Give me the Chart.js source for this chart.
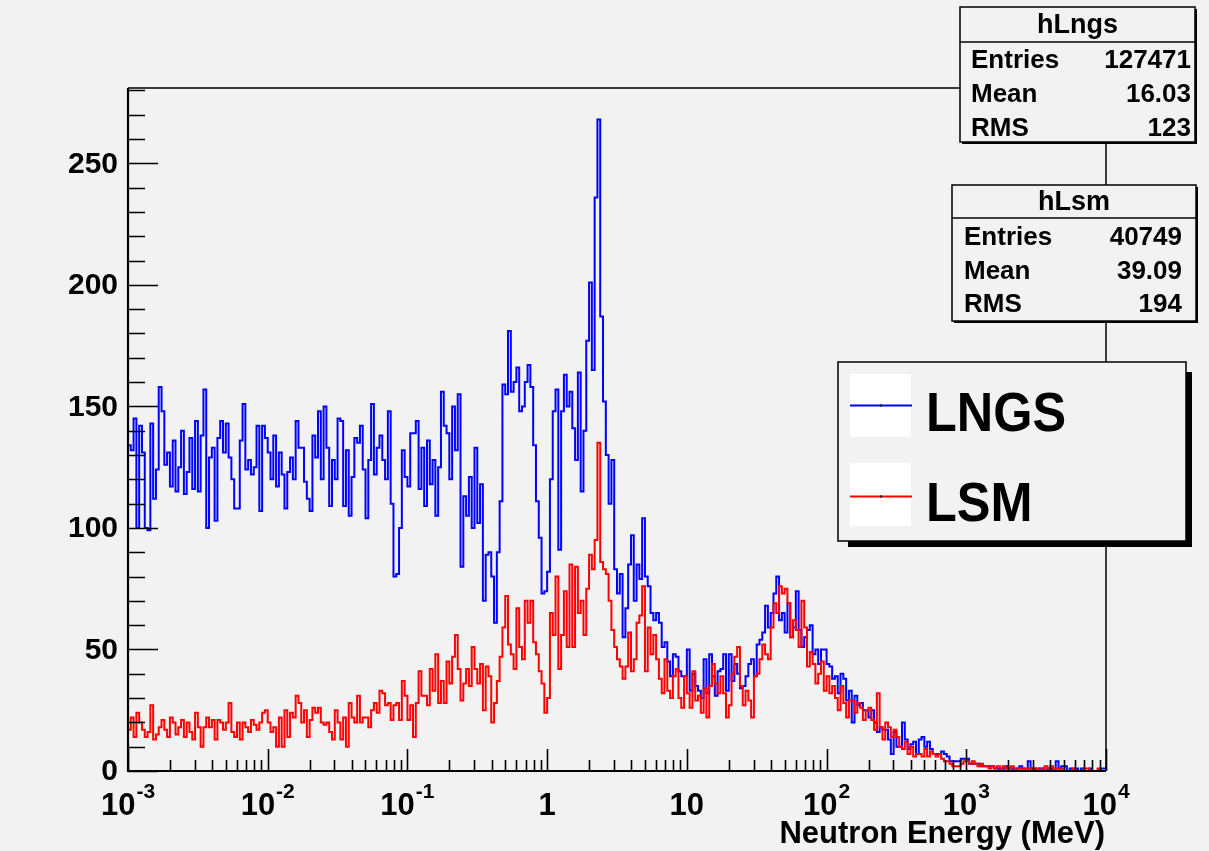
<!DOCTYPE html>
<html><head><meta charset="utf-8">
<script src="https://cdn.jsdelivr.net/npm/chart.js@4.4.0/dist/chart.umd.min.js"></script>
<style>html,body{margin:0;padding:0;background:#f2f2f2;overflow:hidden}canvas{display:block}</style>
</head><body><canvas id="c" width="1209" height="851"></canvas>
<script>
// ---- data ----
const binsPerDecade = 50;
const eMin = 1e-3, eMax = 1e4;
const lngsCounts = [
118,134,132,145,100,142,131,100,99,143,
112,124,158,148,126,131,117,136,115,125,
140,114,123,137,116,144,115,138,157,100,
129,133,103,137,144,131,143,129,120,108,
108,136,151,124,128,122,125,142,107,142,
137,131,120,138,117,131,122,108,123,129,
120,144,133,133,119,112,107,138,129,148,
120,150,133,109,128,120,145,144,109,132,
105,121,137,135,142,124,104,128,151,122,
133,138,128,120,148,110,80,81,100,132,
121,117,139,139,144,116,133,109,136,118,
128,105,125,156,142,139,120,150,132,155,
84,113,105,121,100,133,102,118,70,89,
90,80,61,90,111,159,155,181,156,160,
166,148,150,160,167,158,134,111,96,73,
74,82,120,148,157,91,148,163,150,156,
141,128,164,115,140,177,201,165,236,268,
187,152,130,110,128,83,73,81,55,67,
85,97,70,85,79,104,80,76,65,62,
65,61,51,53,45,39,48,47,41,39,
39,50,33,40,35,33,30,46,32,48,
39,31,41,42,48,33,48,37,44,40,
34,35,39,44,46,39,52,54,57,68,
59,65,73,80,62,65,57,69,55,59,
74,58,51,55,58,60,48,50,44,50,
50,44,43,38,39,32,40,38,29,33,
20,31,27,28,25,25,22,25,20,16,
18,17,17,13,7,16,10,10,20,13,
9,11,12,7,13,14,10,12,9,7,
7,7,8,7,6,4,4,4,4,5,
5,5,3,3,3,3,2,2,2,2,
2,1,1,0,1,2,1,1,0,1,
2,1,0,4,1,1,0,1,1,0,
1,1,0,4,1,2,2,0,1,0,
1,0,1,0,0,1,0,0,0,1
];
const lsmCounts = [
12,17,22,14,24,20,17,14,16,27,
13,15,18,21,17,14,22,20,15,18,
21,14,20,16,13,24,18,10,18,22,
18,21,13,21,20,17,20,28,16,14,
20,13,20,18,16,21,19,17,20,24,
25,20,16,18,10,22,10,25,14,24,
22,31,28,20,25,14,21,26,24,26,
20,19,20,16,13,25,20,13,22,10,
28,22,20,31,20,22,22,18,25,28,
24,33,32,27,28,21,27,28,21,37,
31,21,27,14,28,41,31,31,27,42,
33,48,28,37,28,45,36,47,56,42,
29,36,42,35,51,42,36,44,25,43,
39,20,28,37,47,59,72,52,48,42,
67,51,46,70,61,70,53,48,41,36,
24,30,65,56,80,42,56,74,51,85,
51,84,65,70,56,75,89,83,95,135,
86,83,81,70,58,51,46,43,38,43,
57,41,46,61,64,76,41,59,48,56,
46,38,32,46,33,30,39,42,30,26,
39,32,26,41,29,31,24,34,22,35,
44,36,32,39,32,22,27,40,47,51,
35,27,33,29,22,39,40,46,52,48,
46,59,69,65,76,73,75,69,55,62,
58,51,70,59,43,49,44,36,40,45,
33,39,32,35,30,25,35,28,22,29,
29,24,28,26,21,25,26,21,17,32,
18,13,20,18,14,17,14,10,9,12,
7,10,6,7,7,6,9,6,8,7,
6,7,5,4,4,3,2,2,2,3,
4,4,3,4,3,2,3,2,2,1,
2,1,2,1,2,1,1,2,1,1,
1,0,1,1,0,1,1,0,1,2,
1,2,1,1,0,1,0,0,0,1,
0,0,0,1,1,0,0,0,1,0
];
const yMax = 281;
const yMajorStep = 50, yMinorStep = 10;
const yTickValues = [0, 50, 100, 150, 200, 250];
const yTickLabels = ['0', '50', '100', '150', '200', '250'];
const xTickValues = [1e-3, 1e-2, 1e-1, 1, 10, 100, 1000, 10000];
const xTickBase = ['10', '10', '10', '1', '10', '10', '10', '10'];
const xTickExp = ['-3', '-2', '-1', '', '', '2', '3', '4'];
const xTitle = 'Neutron Energy (MeV)';
const seriesNames = ['LNGS', 'LSM'];
const seriesColors = ['#0000ff', '#ff0000'];
const statsTitles = ['hLngs', 'hLsm'];
const statsKeys = ['Entries', 'Mean', 'RMS'];
const lngsStats = ['127471', '16.03', '123'];
const lsmStats = ['40749', '39.09', '194'];

// bin edges (log-uniform binning)
const binEdges = Array.from({length: lngsCounts.length + 1}, (_, i) => eMin * Math.pow(10, i / binsPerDecade));
function histPoints(counts) {
  const pts = counts.map((c, i) => ({x: binEdges[i], y: c}));
  pts.push({x: binEdges[counts.length], y: counts[counts.length - 1]});
  return pts;
}

const FONT = '"Liberation Sans", Arial, Helvetica, sans-serif';
const BG = '#f2f2f2';

function tallText(ctx, txt, x, y, sx) {
  ctx.save();
  ctx.translate(x, y);
  ctx.scale(sx, 1);
  ctx.fillText(txt, 0, 0);
  ctx.restore();
}

function drawStatsBox(ctx, b, title, vals) {
  ctx.save();
  ctx.fillStyle = '#000';
  ctx.fillRect(b.x + 2, b.y + 2, b.w, b.h);
  ctx.fillStyle = BG;
  ctx.fillRect(b.x, b.y, b.w, b.h);
  ctx.strokeStyle = '#000';
  ctx.lineWidth = 1.5;
  ctx.strokeRect(b.x, b.y, b.w, b.h);
  ctx.beginPath();
  ctx.moveTo(b.x, b.y + b.titleH); ctx.lineTo(b.x + b.w, b.y + b.titleH);
  ctx.stroke();
  ctx.fillStyle = '#000';
  ctx.font = 'bold 27px ' + FONT;
  ctx.textBaseline = 'middle';
  ctx.textAlign = 'center';
  ctx.fillText(title, b.x + b.w / 2, b.y + b.titleH / 2 + 1);
  ctx.font = 'bold 26px ' + FONT;
  for (let r = 0; r < statsKeys.length; r++) {
    const yy = b.rowY[r];
    ctx.textAlign = 'left';
    ctx.fillText(statsKeys[r], b.x + b.padL, yy);
    ctx.textAlign = 'right';
    ctx.fillText(vals[r], b.valR, yy);
  }
  ctx.restore();
}

const rootStyle = {
  id: 'rootStyle',
  beforeDraw(chart) {
    const ctx = chart.ctx;
    ctx.save();
    ctx.fillStyle = BG;
    ctx.fillRect(0, 0, chart.width, chart.height);
    ctx.restore();
  },
  afterDatasetsDraw(chart) {
    const ctx = chart.ctx;
    const xs = chart.scales.x, ys = chart.scales.y;
    const a = chart.chartArea;
    ctx.save();
    ctx.strokeStyle = '#000';
    // frame
    ctx.lineWidth = 1.5;
    ctx.beginPath();
    ctx.moveTo(a.left, a.top); ctx.lineTo(a.right, a.top); ctx.lineTo(a.right, a.bottom);
    ctx.stroke();
    ctx.lineWidth = 2.2;
    ctx.beginPath();
    ctx.moveTo(a.left, a.top); ctx.lineTo(a.left, a.bottom); ctx.lineTo(a.right, a.bottom);
    ctx.stroke();
    // y ticks
    ctx.lineWidth = 1.6;
    ctx.beginPath();
    for (let v = 0; v <= yMax; v += yMinorStep) {
      const y = Math.round(ys.getPixelForValue(v)) + 0.5;
      const len = (v % yMajorStep === 0) ? 30 : 17;
      ctx.moveTo(a.left, y); ctx.lineTo(a.left + len, y);
    }
    // x ticks
    for (let k = -3; k <= 4; k++) {
      for (let m = 1; m <= 9; m++) {
        const v = m * Math.pow(10, k);
        if (v > eMax * 1.0001) break;
        const x = Math.round(xs.getPixelForValue(v)) + 0.5;
        const len = (m === 1) ? 22 : 11;
        ctx.moveTo(x, a.bottom); ctx.lineTo(x, a.bottom - len);
      }
    }
    ctx.stroke();
    // y labels
    ctx.fillStyle = '#000';
    ctx.font = 'bold 30px ' + FONT;
    ctx.textAlign = 'right';
    ctx.textBaseline = 'middle';
    yTickValues.forEach((v, i) => {
      ctx.fillText(yTickLabels[i], a.left - 10, ys.getPixelForValue(v) + 1);
    });
    // x labels with exponents
    ctx.textAlign = 'left';
    ctx.textBaseline = 'alphabetic';
    xTickValues.forEach((v, i) => {
      const px = xs.getPixelForValue(v);
      ctx.font = 'bold 31px ' + FONT;
      const wb = ctx.measureText(xTickBase[i]).width;
      ctx.font = 'bold 21px ' + FONT;
      const we = xTickExp[i] ? ctx.measureText(xTickExp[i]).width + 1 : 0;
      const x0 = px - (wb + we) / 2;
      ctx.font = 'bold 31px ' + FONT;
      ctx.fillText(xTickBase[i], x0, 815);
      if (xTickExp[i]) {
        ctx.font = 'bold 21px ' + FONT;
        ctx.fillText(xTickExp[i], x0 + wb + 1, 798);
      }
    });
    // axis title
    ctx.font = 'bold 31px ' + FONT;
    ctx.textAlign = 'right';
    ctx.fillText(xTitle, a.right - 1, 843);
    ctx.restore();
  },
  afterDraw(chart) {
    const ctx = chart.ctx;
    drawStatsBox(ctx, {x: 960, y: 7, w: 235, h: 135, titleH: 35, padL: 11, valR: 1191, rowY: [61, 95, 129]}, statsTitles[0], lngsStats);
    drawStatsBox(ctx, {x: 952, y: 185, w: 244, h: 136, titleH: 33, padL: 12, valR: 1182, rowY: [238, 272, 305]}, statsTitles[1], lsmStats);
    // legend
    ctx.save();
    ctx.fillStyle = '#000';
    ctx.fillRect(848, 372, 344, 175);
    ctx.fillStyle = BG;
    ctx.fillRect(838, 362, 348, 179);
    ctx.strokeStyle = '#000';
    ctx.lineWidth = 1.5;
    ctx.strokeRect(838, 362, 348, 179);
    const rows = [{sq: 374, ly: 405.5, ty: 431}, {sq: 463, ly: 496.5, ty: 521}];
    rows.forEach((r, i) => {
      ctx.fillStyle = '#ffffff';
      ctx.fillRect(850, r.sq, 61, 63);
      ctx.strokeStyle = seriesColors[i];
      ctx.lineWidth = 1.8;
      ctx.beginPath(); ctx.moveTo(850, r.ly); ctx.lineTo(912, r.ly); ctx.stroke();
      ctx.fillStyle = '#000';
      ctx.fillRect(880, r.ly - 1, 2, 2);
      ctx.font = 'bold 56px ' + FONT;
      ctx.textAlign = 'left';
      ctx.textBaseline = 'alphabetic';
      tallText(ctx, seriesNames[i], 926, r.ty, 0.9);
    });
    ctx.restore();
  }
};

new Chart(document.getElementById('c').getContext('2d'), {
  type: 'line',
  data: {
    datasets: [
      {label: seriesNames[0], data: histPoints(lngsCounts), borderColor: seriesColors[0], borderWidth: 2,
       stepped: 'after', pointRadius: 0, fill: false, order: 2},
      {label: seriesNames[1], data: histPoints(lsmCounts), borderColor: seriesColors[1], borderWidth: 2,
       stepped: 'after', pointRadius: 0, fill: false, order: 1}
    ]
  },
  options: {
    responsive: false,
    animation: false,
    devicePixelRatio: 1,
    layout: {padding: {left: 128, right: 103, top: 88, bottom: 80}},
    plugins: {legend: {display: false}, tooltip: {enabled: false}},
    scales: {
      x: {type: 'logarithmic', min: eMin, max: eMax, display: false},
      y: {type: 'linear', min: 0, max: yMax, display: false}
    }
  },
  plugins: [rootStyle]
});
</script>
</body></html>
